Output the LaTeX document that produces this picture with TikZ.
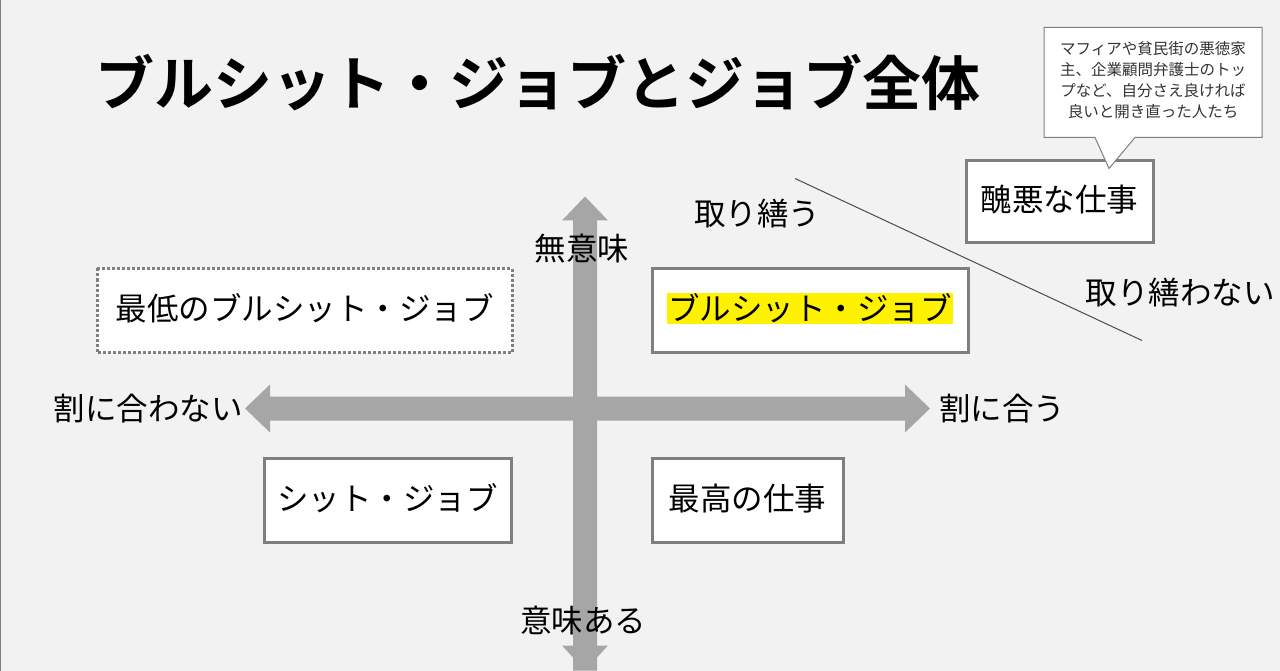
\documentclass[tikz,border=0pt]{standalone}
\usepackage{fontspec}
\setmainfont{Noto Sans CJK JP}
\newfontfamily\titlefont{Noto Sans CJK JP Bold}
\definecolor{bg}{HTML}{F2F2F2}
\definecolor{arr}{HTML}{A6A6A6}
\definecolor{bd}{HTML}{7F7F7F}
\tikzset{
  box/.style={draw=bd,line width=3pt,fill=white,inner sep=0pt},
  lbl/.style={font=\fontsize{31.5}{36}\selectfont,text=black},
}
\begin{document}
\begin{tikzpicture}[x=1pt,y=-1pt]
\fill[bg] (0,0) rectangle (1280,670);
\draw[bd,line width=1pt] (0.5,0) -- (0.5,670);
\useasboundingbox (0,0) rectangle (1280,670);
\node (title) at (538,82) {\titlefont\fontsize{59}{64}\selectfont ブルシット・ジョブとジョブ全体};
% arrows
\fill[arr] (573,670) -- (573,220) -- (562,220) -- (585,196) -- (608,220) -- (597,220) -- (597,670) -- cycle;
\fill[arr] (562,645) -- (585,670) -- (608,645) -- cycle;
\fill[arr] (270,396) -- (905,396) -- (905,384) -- (930,408) -- (905,432) -- (905,420) -- (270,420) -- (270,432) -- (245,408) -- (270,384) -- (270,396) -- cycle;
% boxes
\draw[bd,line width=3pt,dotted,fill=white] (97,268) rectangle (512,352);
\node[lbl] (b1) at (304.5,308) {最低のブルシット・ジョブ};
\draw[box] (652,268) rectangle (968,352);
\node[lbl,fill=yellow,inner sep=1pt] (b2) at (810,308) {ブルシット・ジョブ};
\draw[box] (264,458) rectangle (511,542);
\node[lbl] (b3) at (387.5,498) {シット・ジョブ};
\draw[box] (652,458) rectangle (843,542);
\node[lbl] (b4) at (747.5,498) {最高の仕事};
\draw[box] (966,160) rectangle (1153,242);
\node[lbl] (b5) at (1059.5,199) {醜悪な仕事};
% callout
\draw[bd,line width=1pt,fill=white] (1044,27) -- (1262,27) -- (1262,137) -- (1135,137) -- (1109,168) -- (1095,137) -- (1044,137) -- cycle;
\node[align=center,font=\fontsize{15.5}{21}\selectfont,text=black!80] (call) at (1153,80) {マフィアや貧民街の悪徳家\\主、企業顧問弁護士のトッ\\プなど、自分さえ良ければ\\良いと開き直った人たち};
% line
\coordinate (l1) at (795,178); \coordinate (l2) at (1142,340);
\draw[black!70,line width=1pt] (l1) -- (l2);
% labels
\node[lbl] (t1) at (757,213) {取り繕う};
\node[lbl] (t2) at (1180,292) {取り繕わない};
\node[lbl] (t3) at (582,248) {無意味};
\node[lbl] (t4) at (583,620) {意味ある};
\node[lbl] (t5) at (148,408) {割に合わない};
\node[lbl] (t6) at (1002,408) {割に合う};
\end{tikzpicture}
\end{document}
